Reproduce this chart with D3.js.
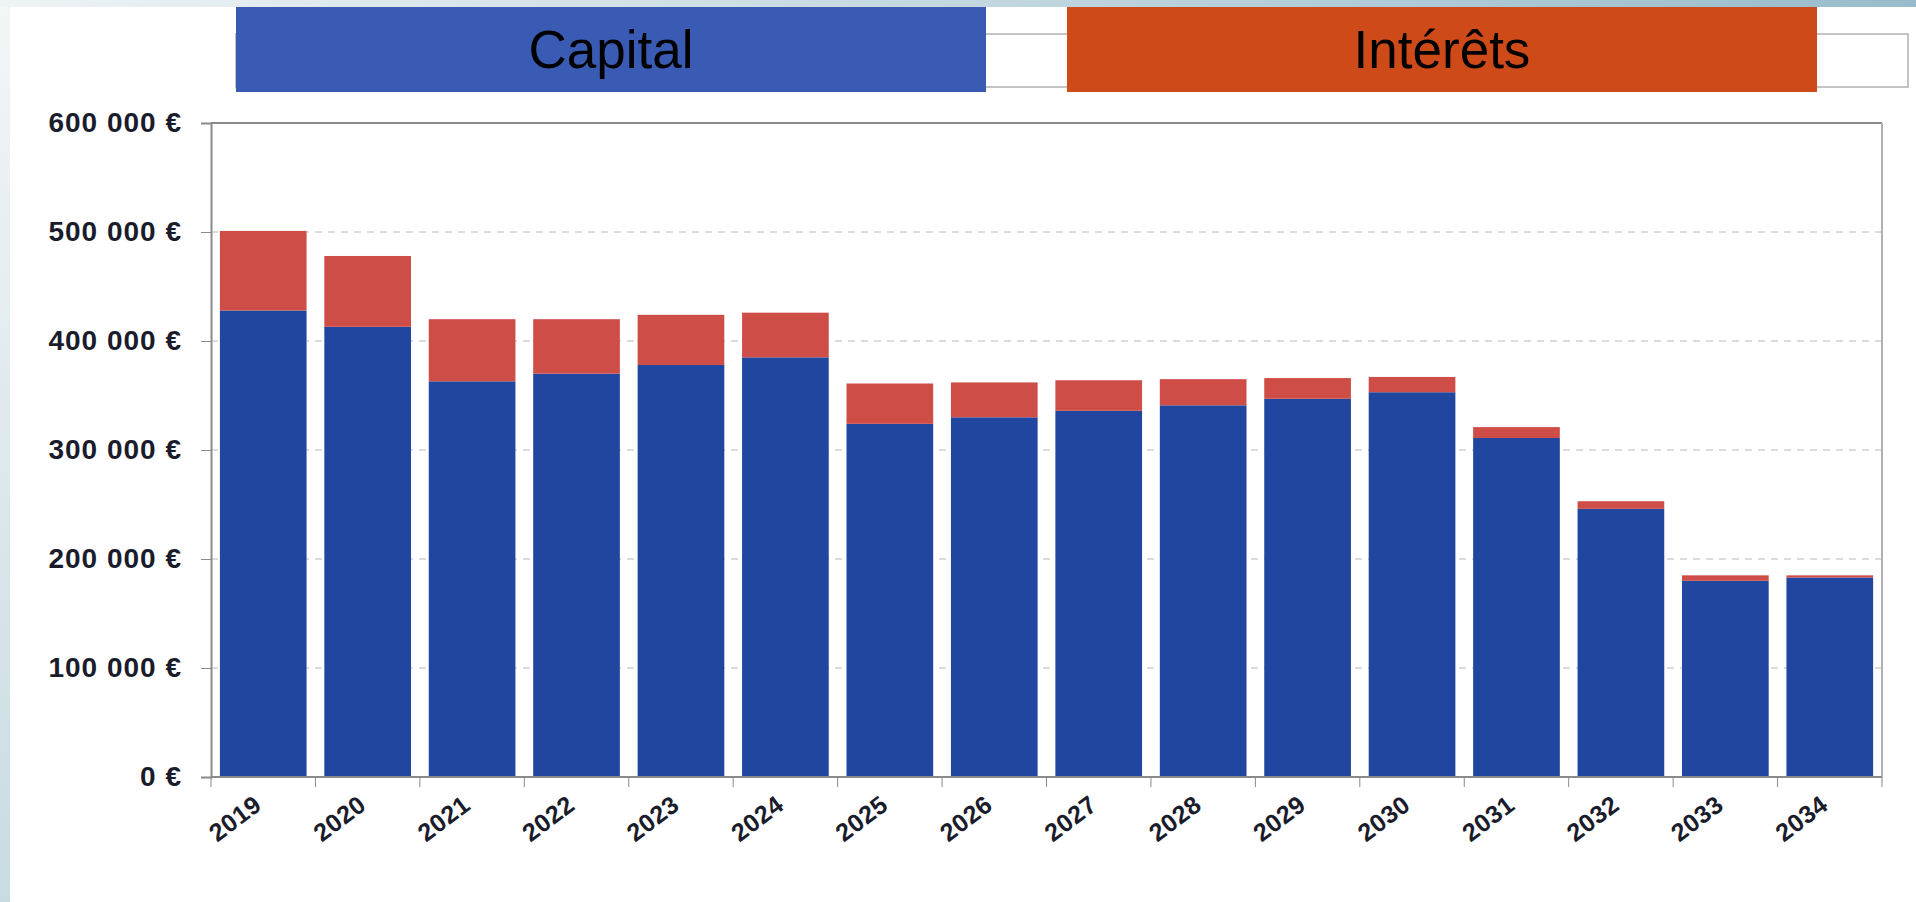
<!DOCTYPE html>
<html>
<head>
<meta charset="utf-8">
<script src="https://cdn.jsdelivr.net/npm/d3@7"></script>
<style>
  body { margin: 0; background: #ffffff; }
  svg { display: block; }
  .axis text { font-family: "Liberation Sans", Arial, sans-serif; font-weight: bold; fill: #1a1c2c; }
  .axis path, .axis line { stroke: #8a8a8a; }
</style>
</head>
<body>
<div id="chart"></div>
<script>
// data (euros)
var years = ["2019", "2020", "2021", "2022", "2023", "2024", "2025", "2026",
             "2027", "2028", "2029", "2030", "2031", "2032", "2033", "2034"];
var capital = [428000, 413000, 363000, 370000, 378000, 385000, 324000, 330000,
               336000, 341000, 347000, 353000, 311000, 246000, 180000, 183000];
var interets = [73000, 65000, 57000, 50000, 46000, 41000, 37000, 32000,
                28000, 24000, 19000, 14000, 10000, 7000, 5000, 2000];
var yTicks = [0, 100000, 200000, 300000, 400000, 500000, 600000];
var seriesNames = ["Capital", "Intérêts"];

var width = 1916, height = 902,
    margin = {top: 123, right: 34, bottom: 125, left: 211},
    colors = {bar: ["#2046a0", "#cf4d47"], legend: ["#3a5bb3", "#cf4a19"]};

var fr = d3.formatLocale({decimal: ",", thousands: " ", grouping: [3], currency: ["", " €"]});
var fmt = fr.format("$,.0f");

var rows = years.map(function(y, i) {
  return {year: y, capital: capital[i], interets: interets[i]};
});

var svg = d3.select("#chart").append("svg")
    .attr("width", width)
    .attr("height", height);

// slide background bits
var defs = svg.append("defs");
var topGrad = defs.append("linearGradient").attr("id", "topGrad");
topGrad.append("stop").attr("offset", "0%").attr("stop-color", "#eef3f5");
topGrad.append("stop").attr("offset", "100%").attr("stop-color", "#98bccb");
var leftGrad = defs.append("linearGradient").attr("id", "leftGrad")
    .attr("x1", 0).attr("x2", 0).attr("y1", 0).attr("y2", 1);
leftGrad.append("stop").attr("offset", "0%").attr("stop-color", "#f2f6f7");
leftGrad.append("stop").attr("offset", "100%").attr("stop-color", "#c9dbe2");
svg.append("rect").attr("width", width).attr("height", 7).attr("fill", "url(#topGrad)");
svg.append("rect").attr("y", 7).attr("width", 10).attr("height", height - 7).attr("fill", "url(#leftGrad)");

var innerW = width - margin.left - margin.right,
    innerH = height - margin.top - margin.bottom;

var x = d3.scaleBand()
    .domain(years)
    .range([0, innerW])
    .paddingInner(0.17)
    .paddingOuter(0.085);

var y = d3.scaleLinear()
    .domain([0, 600000])
    .range([innerH, 0]);

var g = svg.append("g")
    .attr("transform", "translate(" + margin.left + "," + margin.top + ")");

// grid lines (dashed) and top frame line
g.append("g").attr("class", "grid")
  .selectAll("line")
  .data(yTicks.filter(function(d) { return d > 0 && d < 600000; }))
  .enter().append("line")
    .attr("x1", 0).attr("x2", innerW)
    .attr("y1", function(d) { return y(d); })
    .attr("y2", function(d) { return y(d); })
    .attr("stroke", "#b8b8b8")
    .attr("stroke-dasharray", "7,6");
g.append("line")
    .attr("x1", 0).attr("x2", innerW)
    .attr("y1", y(600000)).attr("y2", y(600000))
    .attr("stroke", "#8a8a8a").attr("stroke-width", 2);
g.append("line")
    .attr("x1", innerW).attr("x2", innerW)
    .attr("y1", y(600000)).attr("y2", y(0))
    .attr("stroke", "#b0b0b0").attr("stroke-width", 2);

// stacked bars
var stack = d3.stack().keys(["capital", "interets"]);
var layers = stack(rows);

g.append("g").selectAll("g.layer")
  .data(layers)
  .enter().append("g")
    .attr("class", "layer")
    .attr("fill", function(d, i) { return colors.bar[i]; })
  .selectAll("rect")
  .data(function(d) { return d; })
  .enter().append("rect")
    .attr("x", function(d) { return x(d.data.year); })
    .attr("width", x.bandwidth())
    .attr("y", function(d) { return y(d[1]); })
    .attr("height", function(d) { return y(d[0]) - y(d[1]); });

// y axis
var yAxis = g.append("g").attr("class", "axis y")
    .call(d3.axisLeft(y).tickValues(yTicks).tickFormat(fmt).tickSize(10).tickPadding(19));
yAxis.select(".domain").attr("stroke-width", 2);
yAxis.selectAll("text").style("font-size", "28px").style("letter-spacing", "1px");

// x axis: tick marks sit between the bars
var step = x.step();
var xAxis = g.append("g").attr("class", "axis x")
    .attr("transform", "translate(0," + innerH + ")");
xAxis.append("line")
    .attr("x1", 0).attr("x2", innerW)
    .attr("stroke-width", 2);
xAxis.selectAll("line.tick")
  .data(d3.range(years.length + 1))
  .enter().append("line")
    .attr("class", "tick")
    .attr("x1", function(i) { return i * step; })
    .attr("x2", function(i) { return i * step; })
    .attr("y1", 0).attr("y2", 10);
xAxis.selectAll("text")
  .data(years)
  .enter().append("text")
    .attr("text-anchor", "end")
    .attr("transform", function(d) {
      return "translate(" + (x(d) + x.bandwidth() / 2) + ",31) rotate(-37)";
    })
    .style("font-size", "25px")
    .style("letter-spacing", "0.5px")
    .text(function(d) { return d; });

// legend across the top
var legend = svg.append("g").attr("class", "legend");
legend.append("rect")
    .attr("x", 236).attr("y", 34)
    .attr("width", 1672).attr("height", 53)
    .attr("fill", "#ffffff")
    .attr("stroke", "#c4c4c4").attr("stroke-width", 2);
var items = legend.selectAll("g.item")
  .data(seriesNames)
  .enter().append("g")
    .attr("class", "item")
    .attr("transform", function(d, i) { return "translate(" + (236 + i * 831) + ",7)"; });
items.append("rect")
    .attr("width", 750).attr("height", 85)
    .attr("fill", function(d, i) { return colors.legend[i]; });
items.append("text")
    .attr("x", 375).attr("y", 61)
    .attr("text-anchor", "middle")
    .style("font-family", "'Liberation Sans', Arial, sans-serif")
    .style("font-size", "53px")
    .attr("fill", "#000000")
    .text(function(d) { return d; });
</script>
</body>
</html>
